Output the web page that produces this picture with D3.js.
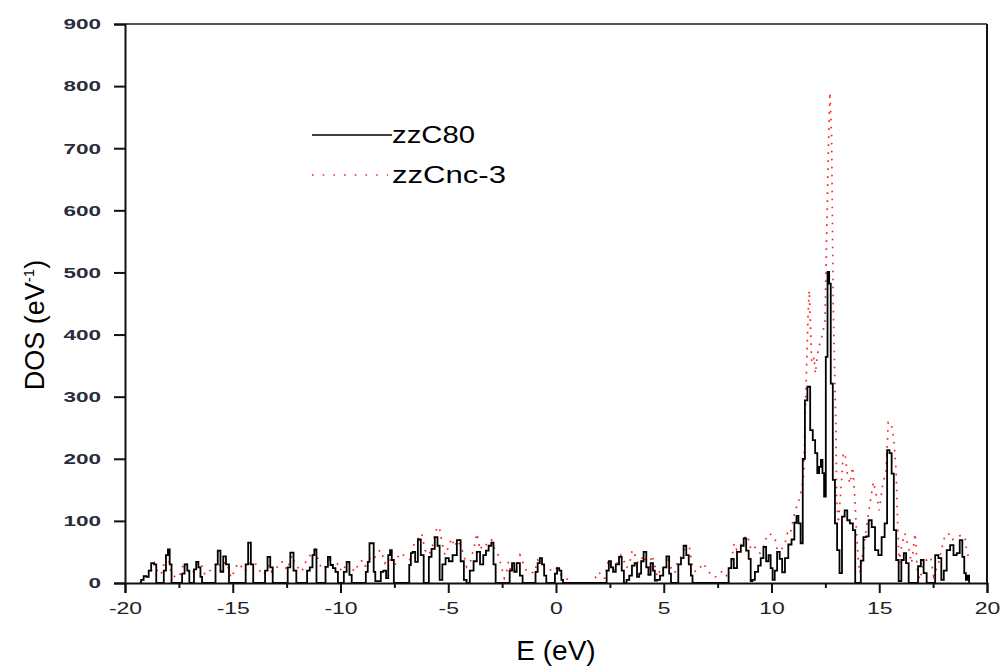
<!DOCTYPE html>
<html>
<head>
<meta charset="utf-8">
<script src="https://cdn.jsdelivr.net/npm/d3@7"></script>
<style>
  html, body { margin: 0; padding: 0; background: #fff; }
  svg { display: block; }
  text { font-family: "Liberation Sans", Arial, sans-serif; }
</style>
</head>
<body>
<svg id="chart" width="1000" height="668"></svg>
<script>
// Density of states, zzC80 (solid) and zzCnc-3 (dotted)
const c80E = [-19.3,-19.2,-19.07,-18.95,-18.85,-18.72,-18.6,-18.5,-18.25,-18.15,-18.05,-17.97,-17.88,-17.8,-17.4,-17.3,-17.17,-17.05,-16.98,-16.85,-16.75,-16.64,-16.55,-16.45,-16.4,-15.85,-15.75,-15.64,-15.5,-15.38,-15.25,-15.1,-14.45,-14.35,-14.22,-14.1,-14.0,-13.55,-13.45,-13.32,-13.2,-13.09,-12.5,-12.4,-12.26,-12.1,-12.0,-11.6,-11.5,-11.35,-11.25,-11.18,-11.05,-10.75,-10.64,-10.53,-10.41,-10.29,-10.18,-10.06,-9.9,-9.79,-9.64,-9.53,-9.43,-8.86,-8.79,-8.68,-8.63,-8.5,-8.42,-8.35,-8.17,-8.09,-7.94,-7.83,-7.74,-7.66,-7.58,-7.47,-6.85,-6.77,-6.7,-6.6,-6.47,-6.35,-6.2,-6.08,-5.95,-5.85,-5.7,-5.55,-5.45,-5.35,-5.2,-5.05,-4.9,-4.7,-4.5,-4.35,-4.2,-4.1,-3.9,-3.75,-3.6,-3.45,-3.3,-3.2,-3.05,-2.95,-2.85,-2.75,-2.2,-2.1,-1.98,-1.9,-1.75,-1.6,-1.5,-1.0,-0.9,-0.8,-0.7,-0.6,-0.5,-0.4,-0.1,0.0,0.1,0.2,0.3,0.35,2.3,2.4,2.5,2.6,2.7,2.85,3.0,3.1,3.2,3.35,3.45,3.6,3.7,3.82,3.9,4.0,4.13,4.25,4.33,4.45,4.55,4.62,4.75,4.9,5.05,5.2,5.3,5.37,5.6,5.75,5.85,5.99,6.1,6.22,6.3,6.37,7.95,8.07,8.2,8.3,8.5,8.65,8.77,8.88,9.0,9.07,9.15,9.31,9.45,9.55,9.7,9.8,9.92,10.0,10.1,10.2,10.32,10.44,10.55,10.7,10.86,11.0,11.12,11.2,11.3,11.4,11.5,11.6,11.73,11.86,11.97,12.08,12.17,12.25,12.33,12.4,12.48,12.56,12.64,12.71,12.79,12.9,12.99,13.1,13.21,13.33,13.46,13.57,13.7,13.85,13.92,14.1,14.19,14.34,14.45,14.57,14.73,14.88,15.03,15.19,15.31,15.42,15.53,15.62,15.73,15.84,15.96,16.09,16.19,16.3,16.43,16.74,16.86,17.0,17.12,17.28,17.52,17.67,17.82,17.94,18.05,18.21,18.37,18.52,18.67,18.8,18.91,18.98,19.06,19.14,19.2];
const c80DOS = [0,5,11,10,20,32,30,0,0,20,45,54,30,0,0,15,30,20,0,0,22,34,25,10,0,0,30,52,18,43,30,0,0,30,65,30,0,0,20,42,25,0,0,25,49,20,0,0,20,25,45,54,0,0,26,42,29,24,18,0,0,18,34,13,0,0,18,34,64,64,18,3,3,18,20,8,45,53,37,0,0,29,48,50,34,70,45,0,0,42,55,74,60,5,30,40,35,45,69,35,5,0,20,35,50,30,45,52,60,65,30,0,0,20,32,18,32,12,0,0,18,32,40,30,12,0,0,15,24,20,5,0,0,20,35,25,18,30,42,20,0,5,12,28,32,10,15,35,50,25,13,32,20,4,5,12,25,43,15,0,0,30,40,60,45,30,12,0,0,24,39,24,50,60,72,52,39,3,5,18,28,40,58,35,45,24,5,20,50,39,17,40,62,70,97,108,96,64,200,294,316,246,230,209,177,187,198,177,139,364,501,482,321,166,96,53,16,107,117,101,96,85,0,0,36,74,75,101,90,53,45,74,96,214,209,176,85,37,3,37,48,32,0,0,27,37,16,0,0,45,40,5,20,53,61,45,48,69,42,16,5,12,0];

const cncE = [-19.3,-19.2,-19.0,-18.9,-18.76,-18.64,-18.48,-18.33,-18.18,-18.07,-18.0,-17.91,-17.8,-17.6,-17.45,-17.3,-17.2,-17.09,-16.98,-16.83,-16.67,-16.52,-16.41,-16.29,-16.13,-16.01,-15.82,-15.64,-15.51,-15.36,-15.2,-15.08,-14.9,-14.77,-14.59,-14.43,-14.2,-13.97,-13.82,-13.66,-13.47,-13.32,-13.19,-12.96,-12.81,-12.65,-12.5,-12.34,-12.26,-12.11,-11.96,-11.8,-11.65,-11.49,-11.34,-11.18,-11.03,-10.87,-10.72,-10.52,-10.33,-10.1,-9.95,-9.79,-9.64,-9.48,-9.33,-9.13,-8.94,-8.79,-8.63,-8.45,-8.29,-8.12,-7.94,-7.78,-7.62,-7.47,-7.27,-7.08,-6.93,-6.77,-6.58,-6.39,-6.23,-6.08,-5.92,-5.77,-5.61,-5.5,-5.41,-5.3,-5.15,-4.99,-4.84,-4.69,-4.58,-4.45,-4.3,-4.15,-3.99,-3.84,-3.76,-3.68,-3.6,-3.53,-3.37,-3.19,-2.99,-2.83,-2.71,-2.55,-2.4,-2.29,-2.21,-2.09,-1.94,-1.78,-1.67,-1.52,-1.36,-1.21,-1.0,-0.85,-0.7,-0.51,-0.36,-0.13,0.03,0.23,0.42,0.6,0.8,1.58,1.81,2.0,2.12,2.27,2.43,2.58,2.74,2.89,3.02,3.17,3.28,3.43,3.54,3.63,3.74,3.9,4.05,4.13,4.28,4.44,4.55,4.7,4.9,5.06,5.21,5.37,5.52,5.63,5.79,5.99,6.19,6.3,6.37,6.53,6.68,6.81,6.99,7.23,7.46,7.74,7.92,8.07,8.15,8.26,8.39,8.54,8.62,8.73,8.89,9.03,9.19,9.34,9.47,9.62,9.75,9.9,10.16,10.27,10.43,10.63,10.74,10.86,11.05,11.14,11.24,11.3,11.4,11.45,11.5,11.55,11.6,11.65,11.7,11.75,11.8,11.86,11.92,11.97,12.04,12.1,12.17,12.25,12.33,12.4,12.48,12.56,12.64,12.71,12.79,12.86,12.95,12.99,13.02,13.1,13.16,13.24,13.33,13.41,13.52,13.64,13.77,13.87,13.95,14.03,14.1,14.26,14.41,14.57,14.73,14.88,15.0,15.17,15.31,15.42,15.53,15.62,15.7,15.78,15.86,15.93,16.04,16.19,16.35,16.5,16.66,16.77,16.89,17.05,17.2,17.39,17.52,17.75,17.94,18.05,18.21,18.37,18.59,18.8,18.98,19.06,19.2];
const cncDOS = [0,5,12,16,21,32,18,13,32,45,50,24,13,8,13,29,34,26,13,18,32,32,26,13,18,21,29,34,18,34,24,8,21,32,26,18,34,32,26,13,17,29,18,24,34,34,21,34,45,32,24,18,32,40,48,53,37,22,26,38,24,32,18,26,34,24,18,34,37,21,40,37,50,53,32,40,34,29,48,45,42,37,64,72,80,53,45,53,80,90,90,66,45,58,72,58,69,61,48,26,32,53,64,80,69,53,64,61,69,53,48,29,8,18,34,18,18,32,45,32,18,18,16,37,34,26,24,18,24,13,8,5,0,0,8,18,8,8,37,21,21,37,45,34,24,34,53,50,34,32,45,40,13,45,34,10,26,18,37,21,16,34,42,56,58,32,21,18,24,32,24,11,10,20,12,24,37,64,53,58,64,72,77,56,61,50,48,56,72,80,72,53,52,64,80,77,109,121,125,139,150,163,176,257,310,375,434,471,423,359,354,364,337,359,375,386,396,407,420,560,700,790,720,455,310,246,139,96,123,158,209,209,176,160,187,134,80,37,16,53,90,128,163,139,117,161,177,259,259,246,219,182,90,32,61,80,58,32,80,21,5,32,37,42,11,32,61,76,80,69,74,77,74,50,37];

const xTicks = [-20, -15, -10, -5, 0, 5, 10, 15, 20];
const xMinorTicks = [-17.5, -12.5, -7.5, -2.5, 2.5, 7.5, 12.5, 17.5];
const yTicks = [0, 100, 200, 300, 400, 500, 600, 700, 800, 900];

const seriesNames = ["zzC80", "zzCnc-3"];

const svg = d3.select("#chart");
const plotLeft = 125, plotRight = 987, plotTop = 24, plotBottom = 583;

const x = d3.scaleLinear().domain([-20, 20]).range([plotLeft, plotRight]);
const y = d3.scaleLinear().domain([0, 900]).range([plotBottom, plotTop]);

// widen glyphs horizontally by factor k
function stretch(sel, k) {
  sel.each(function () {
    const len = this.getComputedTextLength();
    d3.select(this).attr("textLength", len * k).attr("lengthAdjust", "spacingAndGlyphs");
  });
}

// frame: top and right borders
svg.append("line").attr("x1", plotLeft).attr("x2", plotRight).attr("y1", plotTop).attr("y2", plotTop)
  .attr("stroke", "#555").attr("stroke-width", 2);
svg.append("line").attr("x1", plotRight).attr("x2", plotRight).attr("y1", plotTop).attr("y2", plotBottom)
  .attr("stroke", "#111").attr("stroke-width", 2);

// curves
const c80 = c80E.map((e, i) => [e, c80DOS[i]]);
const cnc = cncE.map((e, i) => [e, cncDOS[i]]);

svg.append("path").datum(cnc)
  .attr("d", d3.line().x(d => x(d[0])).y(d => y(d[1])).curve(d3.curveLinear))
  .attr("fill", "none").attr("stroke", "#ff2020").attr("stroke-width", 1.7)
  .attr("stroke-dasharray", "1.7,6.3");

svg.append("path").datum(c80)
  .attr("d", d3.line().x(d => x(d[0])).y(d => y(d[1])).curve(d3.curveStep))
  .attr("fill", "none").attr("stroke", "#000").attr("stroke-width", 1.8);

// x axis
const xAxis = svg.append("g").attr("transform", `translate(0,${plotBottom})`)
  .call(d3.axisBottom(x).tickValues(xTicks).tickSize(10).tickPadding(9).tickFormat(d => String(d)));
xAxis.select(".domain").attr("stroke", "#111").attr("stroke-width", 2);
xAxis.selectAll(".tick line").attr("stroke", "#111").attr("stroke-width", 2);
xAxis.selectAll(".tick text").attr("font-size", 17).attr("fill", "#222")
  .attr("font-family", "'Liberation Sans', Arial, sans-serif")
  .call(stretch, 1.35);
svg.append("g").attr("transform", `translate(0,${plotBottom})`)
  .call(d3.axisBottom(x).tickValues(xMinorTicks).tickSize(5).tickFormat(""))
  .call(g => g.select(".domain").remove())
  .selectAll(".tick line").attr("stroke", "#111").attr("stroke-width", 2);

// y axis
const yAxis = svg.append("g").attr("transform", `translate(${plotLeft},0)`)
  .call(d3.axisLeft(y).tickValues(yTicks).tickSize(11).tickPadding(13).tickFormat(d => String(d)));
yAxis.select(".domain").attr("stroke", "#111").attr("stroke-width", 2);
yAxis.selectAll(".tick line").attr("stroke", "#111").attr("stroke-width", 2);
yAxis.selectAll(".tick text").attr("font-size", 15).attr("font-weight", "bold")
  .attr("fill", "#2c2c3c").attr("font-family", "'Liberation Sans', Arial, sans-serif")
  .call(stretch, 1.5);

// axis titles
svg.append("text").attr("x", (plotLeft + plotRight) / 2).attr("y", 660)
  .attr("text-anchor", "middle").attr("font-size", 28).attr("fill", "#000")
  .text("E (eV)");

const yTitle = svg.append("text")
  .attr("transform", `translate(44,325) rotate(-90)`)
  .attr("text-anchor", "middle").attr("font-size", 27).attr("fill", "#000");
yTitle.append("tspan").text("DOS (eV");
yTitle.append("tspan").attr("dy", -10).attr("font-size", 15).text("-1");
yTitle.append("tspan").attr("dy", 10).text(")");

// legend
const legend = svg.append("g");
legend.append("line").attr("x1", 312).attr("x2", 392).attr("y1", 135).attr("y2", 135)
  .attr("stroke", "#000").attr("stroke-width", 1.6);
legend.append("text").attr("x", 392).attr("y", 143).attr("font-size", 23).attr("fill", "#000")
  .attr("textLength", 83).attr("lengthAdjust", "spacingAndGlyphs")
  .text(seriesNames[0]);
legend.append("line").attr("x1", 312).attr("x2", 388).attr("y1", 175).attr("y2", 175)
  .attr("stroke", "#ff2020").attr("stroke-width", 1.6).attr("stroke-dasharray", "1.6,9.1");
legend.append("text").attr("x", 392).attr("y", 183).attr("font-size", 23).attr("fill", "#000")
  .attr("textLength", 114).attr("lengthAdjust", "spacingAndGlyphs")
  .text(seriesNames[1]);
</script>
</body>
</html>
